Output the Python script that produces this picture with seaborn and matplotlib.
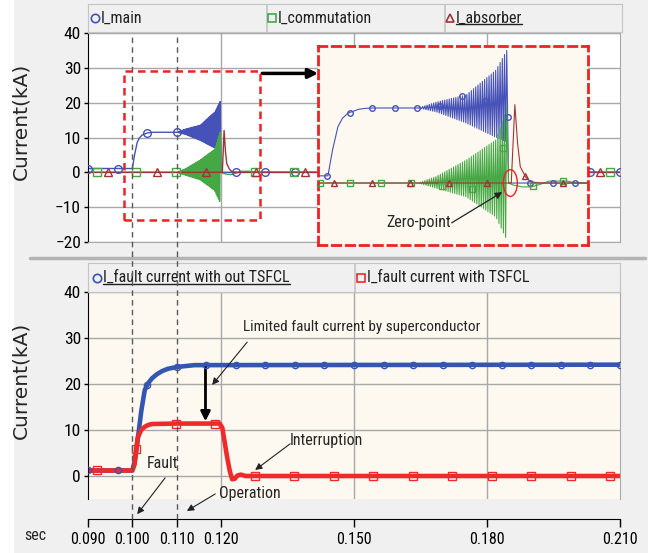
import numpy as np
import seaborn as sns
import matplotlib.pyplot as plt
from matplotlib.patches import Rectangle, Ellipse
from matplotlib.lines import Line2D

sns.set_style("white")
plt.rcParams["font.family"] = ["Roboto Condensed", "DejaVu Sans"]

# ---- values (time in s, current in kA) ----
x_ticks = [0.090, 0.100, 0.110, 0.120, 0.150, 0.180, 0.210]
x_tick_labels = ["0.090", "0.100", "0.110", "0.120", "0.150", "0.180", "0.210"]

# top panel: I_main before the oscillation
main_t = [0.090, 0.100, 0.1005, 0.1011, 0.1016, 0.1022, 0.1028, 0.1034, 0.1042, 0.105, 0.110]
main_i = [1.1, 1.1, 5.0, 8.6, 9.9, 10.7, 11.0, 11.3, 11.45, 11.5, 11.5]
# oscillation envelopes between 0.110 s and current zero
osc_t = [0.110, 0.112, 0.1153, 0.1186, 0.1198]
main_hi = [11.5, 12.4, 13.5, 17.3, 20.3]
main_lo = [11.5, 10.9, 9.2, 7.0, 6.3]
comm_hi = [0.0, 1.0, 3.5, 6.6, 11.5]
comm_lo = [0.0, -0.8, -2.1, -5.2, -8.7]
osc_cycles = 40
main_after_t = [0.1200, 0.210]
main_after_i = [0.0, 0.0]
comm_before_t = [0.090, 0.110]
comm_before_i = [0.0, 0.0]
comm_after_t = [0.1200, 0.1205, 0.1215, 0.1225, 0.1235, 0.1245, 0.1265, 0.1275, 0.210]
comm_after_i = [0.0, -0.3, -0.6, -0.6, -0.2, 0.3, 0.3, 0.0, 0.0]
absorber_t = [0.090, 0.1203, 0.1207, 0.1210, 0.1213, 0.1219, 0.1225, 0.1235, 0.210]
absorber_i = [0.0, 0.0, 12.0, 6.1, 2.5, 0.9, 0.15, 0.0, 0.0]

# bottom panel
fault_no_t = [0.090, 0.100, 0.1006, 0.1012, 0.1020, 0.1028, 0.1036, 0.1044, 0.1055,
              0.1067, 0.108, 0.110, 0.114, 0.210]
fault_no_i = [1.2, 1.2, 3.5, 7.8, 14.0, 18.7, 20.2, 21.2, 22.1, 22.8, 23.3, 23.7, 24.1, 24.2]
fault_with_t = [0.090, 0.100, 0.1005, 0.1012, 0.1020, 0.1028, 0.1036, 0.1044, 0.110, 0.1197,
                0.1203, 0.1208, 0.1214, 0.1220, 0.1225, 0.1231, 0.1237, 0.1245, 0.1255, 0.210]
fault_with_i = [1.2, 1.2, 2.5, 8.3, 10.0, 10.7, 11.1, 11.3, 11.4, 11.4,
                10.5, 7.5, 4.0, 1.0, -0.7, -0.6, 0.1, 0.3, 0.0, 0.0]

BLUE = "#4652b8"
GREEN = "#45a845"
DRED = "#a03434"
BLUE2 = "#3455b0"
RED2 = "#ee2a2a"
GRID = "#a8a8a8"
CREAM = "#fdf9f0"


def zigzag(hi, lo):
    n = 2 * osc_cycles + 1
    t = np.linspace(osc_t[0], osc_t[-1], n)
    up = np.interp(t, osc_t, hi)
    dn = np.interp(t, osc_t, lo)
    return t, np.where(np.arange(n) % 2 == 0, up, dn)


zt, zmain = zigzag(main_hi, main_lo)
_, zcomm = zigzag(comm_hi, comm_lo)
main_all_t = np.concatenate([main_t, zt, main_after_t])
main_all_i = np.concatenate([main_i, zmain, main_after_i])
comm_all_t = np.concatenate([comm_before_t, zt, comm_after_t])
comm_all_i = np.concatenate([comm_before_i, zcomm, comm_after_i])

W, H = 648, 553
fig = plt.figure(figsize=(W / 100, H / 100), dpi=100, facecolor="#f0f0f0")


def box(x0, y0, x1, y1):
    return [x0 / W, 1 - y1 / H, (x1 - x0) / W, (y1 - y0) / H]


fig.add_artist(Rectangle((0, 0), 13 / W, 1, transform=fig.transFigure, color="white", zorder=-5))
fig.add_artist(Line2D([30 / W, 645 / W], [1 - 258 / H] * 2, transform=fig.transFigure,
                      color="#b4b4b4", lw=2.5))


def style_axes(ax, ylim, yticks, face):
    ax.set_facecolor(face)
    ax.set_xlim(0.090, 0.210)
    ax.set_ylim(*ylim)
    ax.set_yticks(yticks)
    ax.grid(axis="y", color=GRID, lw=1)
    ax.grid(axis="x", visible=False)
    ax.set_axisbelow(True)
    for xv in [0.120, 0.150, 0.180]:
        ax.axvline(xv, color=GRID, lw=1, zorder=0.5)
    for s in ["top", "right", "bottom"]:
        ax.spines[s].set_color(GRID)
    ax.spines["left"].set_color("black")
    ax.tick_params(axis="y", left=True, direction="out", length=3, width=1, pad=2,
                   labelsize=12.5, colors="black")


def set_ylabel(ax):
    ax.set_ylabel("Current(kA)", fontsize=14.5, family=["DejaVu Sans"])
    ax.yaxis.set_label_coords(-0.109, 0.575)


def markers(ax, t, series_t, series_i, marker, color, ms):
    ax.plot(t, np.interp(t, series_t, series_i), ls="none", marker=marker, mfc="none",
            mec=color, ms=ms, mew=1.0, zorder=4)


def draw_top(ax, lw, circ_t, sq_t, tri_t, ms):
    sns.lineplot(x=main_all_t, y=main_all_i, ax=ax, color=BLUE, lw=lw, estimator=None, sort=False)
    sns.lineplot(x=comm_all_t, y=comm_all_i, ax=ax, color=GREEN, lw=lw, estimator=None, sort=False)
    sns.lineplot(x=absorber_t, y=absorber_i, ax=ax, color=DRED, lw=lw, estimator=None, sort=False)
    markers(ax, circ_t, main_all_t, main_all_i, "o", BLUE, ms)
    markers(ax, sq_t, comm_all_t, comm_all_i, "s", GREEN, ms)
    markers(ax, tri_t, absorber_t, absorber_i, "^", DRED, ms)


# ---- top panel ----
ax1 = fig.add_axes(box(88, 33, 620, 242))
style_axes(ax1, (-20, 40), [-20, -10, 0, 10, 20, 30, 40], "white")
draw_top(ax1, 1.0,
         0.090 + np.arange(19) / 150, 0.0920 + np.arange(14) * 0.00891,
         0.0945 + np.arange(11) * 0.01111, 5.5)
ax1.set_xticks([])
ax1.set_xlabel("")
set_ylabel(ax1)
ax1.add_patch(Rectangle((0.0981, -13.7), 0.1288 - 0.0981, 42.8, fill=False, ec="#ee2222",
                        ls=(0, (3, 2)), lw=1.8, zorder=5))
ax1.annotate("", xy=(0.1419, 28.4), xytext=(0.1293, 28.4), annotation_clip=False,
             arrowprops=dict(arrowstyle="-|>", lw=2.5, color="black", mutation_scale=14,
                             shrinkA=0, shrinkB=0))

# zoomed inset
axi = fig.add_axes(box(318, 46, 588, 245))
axi.set_facecolor(CREAM)
axi.set_xlim(0.0989, 0.1288)
axi.set_ylim(-9.5, 21)
for s in axi.spines.values():
    s.set_color("#ee2222")
    s.set_linewidth(2)
    s.set_linestyle((0, (3, 2)))
draw_top(axi, 0.8,
         0.0999 + np.arange(12) * 0.0025, 0.09912 + np.arange(9) * 0.00337,
         0.10067 + np.arange(7) * 0.00423, 4)
axi.set_xticks([])
axi.set_yticks([])
axi.set_xlabel("")
axi.set_ylabel("")
axi.add_patch(Ellipse((0.1202, 0), 0.00155, 4.1, fill=False, ec="#ee2222", lw=1, zorder=6))
axi.text(0.1100, -6.0, "Zero-point", ha="center", va="center", fontsize=11.5)
axi.annotate("", xy=(0.1193, -1.4), xytext=(0.1137, -6.1),
             arrowprops=dict(arrowstyle="-|>", lw=0.9, color="#222222", shrinkA=0, shrinkB=0))

# ---- bottom panel ----
ax2 = fig.add_axes(box(88, 292, 620, 499))
style_axes(ax2, (-5, 40), [0, 10, 20, 30, 40], CREAM)
sns.lineplot(x=fault_no_t, y=fault_no_i, ax=ax2, color=BLUE2, lw=3.3, estimator=None, sort=False)
sns.lineplot(x=fault_with_t, y=fault_with_i, ax=ax2, color=RED2, lw=3.3, estimator=None, sort=False)
markers(ax2, 0.090 + np.arange(19) / 150, fault_no_t, fault_no_i, "o", BLUE2, 4.5)
markers(ax2, 0.0920 + np.arange(14) * 0.00891, fault_with_t, fault_with_i, "s", RED2, 6)
set_ylabel(ax2)
ax2.set_xlabel("")
ax2.set_xticks(x_ticks, x_tick_labels)
ax2.spines["bottom"].set_position(("outward", 14.4))
ax2.spines["bottom"].set_color("black")
ax2.tick_params(axis="x", bottom=True, direction="out", length=6, width=1, pad=3,
                labelsize=11.5, colors="black")

arrow_thin = dict(arrowstyle="-|>", lw=0.8, color="#222222", shrinkA=0, shrinkB=0)
ax2.text(0.1518, 32.4, "Limited fault current by superconductor", ha="center", va="center",
         fontsize=11)
ax2.annotate("", xy=(0.1180, 19.8), xytext=(0.1259, 29.1), arrowprops=arrow_thin)
ax2.annotate("", xy=(0.1165, 11.9), xytext=(0.1165, 23.6),
             arrowprops=dict(arrowstyle="-|>", lw=2, color="black", mutation_scale=14,
                             shrinkA=0, shrinkB=0))
ax2.text(0.1437, 7.8, "Interruption", ha="center", va="center", fontsize=11.5)
ax2.annotate("", xy=(0.1277, 1.3), xytext=(0.1356, 7.0), arrowprops=arrow_thin)
ax2.text(0.1069, 2.8, "Fault", ha="center", va="center", fontsize=11.5)
ax2.annotate("", xy=(0.1011, -8.3), xytext=(0.1074, -0.4), arrowprops=arrow_thin,
             annotation_clip=False)
ax2.text(0.1265, -3.7, "Operation", ha="center", va="center", fontsize=11.5)
ax2.annotate("", xy=(0.1123, -7.6), xytext=(0.1187, -3.9), arrowprops=arrow_thin,
             annotation_clip=False)
fig.text(35 / W, 1 - 536 / H, "sec", ha="center", va="center", fontsize=11.5)

# dashed markers of fault / operation time across both panels
inv = fig.transFigure.inverted()
for xv in [0.100, 0.110]:
    xf = inv.transform(ax2.transData.transform((xv, 0)))[0]
    fig.add_artist(Line2D([xf, xf], [1 - 519 / H, 1 - 33 / H], transform=fig.transFigure,
                          color="#5a5a5a", lw=1, ls=(0, (4, 3)), zorder=3))


# ---- legend strips ----
def legend_strip(xr, yr, dividers, items):
    lg = fig.add_axes(box(xr[0], yr[0], xr[1], yr[1]))
    lg.set_xlim(*xr)
    lg.set_ylim(yr[1], yr[0])
    lg.set_facecolor("#f0f0f0")
    lg.set_xticks([])
    lg.set_yticks([])
    for s in lg.spines.values():
        s.set_color("#c4c4c4")
    for d in dividers:
        lg.axvline(d, color="#c4c4c4", lw=1.2)
    texts = []
    yc = (yr[0] + yr[1]) / 2
    for mx, marker, color, label, under in items:
        lg.plot([mx], [yc], marker=marker, mfc="none", mec=color, ms=6, mew=1.2)
        t = lg.text(mx + 6, yc, label, ha="left", va="center", fontsize=11.5, color="#202020")
        texts.append((t, under))
    return lg, texts


lg1, t1 = legend_strip((88, 622), (4, 32), [267, 445],
                       [(95, "o", BLUE, "I_main", False),
                        (272, "s", GREEN, "I_commutation", False),
                        (450, "^", DRED, "I_absorber", True)])
lg2, t2 = legend_strip((88, 620), (263, 292), [355],
                       [(97, "o", BLUE2, "I_fault current with out TSFCL", True),
                        (361, "s", RED2, "I_fault current with TSFCL", False)])

fig.canvas.draw()
r = fig.canvas.get_renderer()
for lg, texts in [(lg1, t1), (lg2, t2)]:
    for t, under in texts:
        if under:
            bb = t.get_window_extent(r)
            (x0, y0), (x1, _) = lg.transData.inverted().transform([(bb.x0, bb.y0), (bb.x1, bb.y0)])
            lg.plot([x0, x1], [y0 - 1.5, y0 - 1.5], color="#202020", lw=1)

fig.savefig("out.png", dpi=100, facecolor=fig.get_facecolor())
